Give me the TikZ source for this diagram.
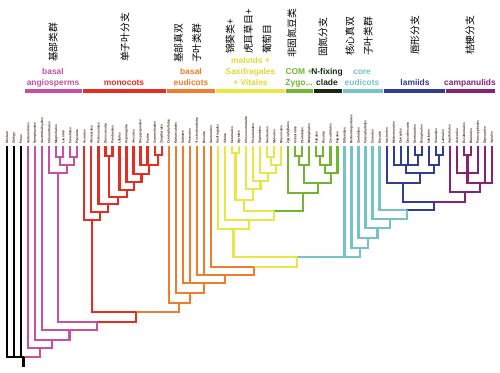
\documentclass[tikz,border=0pt]{standalone}
\usepackage{fontspec}
\setmainfont{Liberation Sans}
\newfontfamily\cjk{Noto Sans CJK SC}
\usetikzlibrary{calc}

\definecolor{cBasal}{RGB}{200,80,160}
\definecolor{cMono}{RGB}{228,45,35}
\definecolor{cEud}{RGB}{240,125,45}
\definecolor{cMalv}{RGB}{234,230,70}
\definecolor{cMalvTxt}{RGB}{222,218,55}
\definecolor{cCom}{RGB}{115,180,50}
\definecolor{cNfix}{RGB}{25,40,20}
\definecolor{cCore}{RGB}{115,195,200}
\definecolor{cLam}{RGB}{50,60,145}
\definecolor{cCamp}{RGB}{135,35,115}
\definecolor{cLeaf}{RGB}{65,45,35}

\begin{document}
\begin{tikzpicture}[x=0.05cm, y=-0.05cm]

	\tikzset{
		branch/.style={line width=3.2pt},
		leaf/.style={rotate=90, anchor=west, inner sep=0pt, text=cLeaf, font=\fontsize{4.7}{6}\selectfont\bfseries},
		bar/.style={line width=5pt},
		clade/.style={align=center, anchor=south, inner sep=0pt, font=\fontsize{12}{15.6}\selectfont\bfseries},
		zh/.style={rotate=90, anchor=west, align=left, inner sep=0pt, font=\cjk\fontsize{14}{26}\selectfont}
	}

	% ---------------------------
	% Helper macros
	% (#1 clade name, #2 left child, #3 right child, #4 height, #5/#6 colours)
	% ---------------------------
	\newcommand{\clade}[6]{%
		\coordinate (#1-m) at ($(#2)!0.5!(#3)$);
		\coordinate (#1) at (#1-m |- 0,#4);
		\draw[branch,#5] (#2) |- (#1);
		\draw[branch,#6] (#3) |- (#1);
	}
	% extra child of a polytomy, dropping onto the bar of clade #1
	\newcommand{\drop}[3]{\draw[branch,#3] (#2) -- (#2 |- #1);}

	\path[fill=white, use as bounding box] (0,0) rectangle (500,373);

	% ---------------------------
	% Leaves (orders)
	% ---------------------------
	\foreach \n [count=\i from 0] in {Gnetum,Ginkgo,Pinus,Amborellales,Nymphaeales,Austrobaileyales,Chloranthales,Magnoliales,Laurales,Canellales,Piperales,Acorales,Alismatales,Petrosaviales,Dioscoreales,Pandanales,Liliales,Asparagales,Arecales,Dasypogonales,Poales,Commelinales,Zingiberales,Ceratophyllales,Ranunculales,Sabiales,Proteales,Trochodendrales,Buxales,Gunnerales,Saxifragales,Vitales,Geraniales,Myrtales,Crossosomatales,Picramniales,Sapindales,Huerteales,Malvales,Brassicales,Zygophyllales,Celastrales,Oxalidales,Malpighiales,Fabales,Rosales,Cucurbitales,Fagales,Dilleniales,Berberidopsidales,Santalales,Caryophyllales,Cornales,Ericales,Icacinales,Metteniusales,Garryales,Oncothecales,Gentianales,Boraginales,Vahliales,Solanales,Lamiales,Aquifoliales,Asterales,Escalloniales,Bruniales,Paracryphiales,Dipsacales,Apiales} {
		\coordinate (\n) at ({7+7.03*\i},146);
		\node[leaf] (lbl-\n) at ($(\n)+(0,-2)$) {\n};
	}

	% ---------------------------
	% Basal angiosperms
	% ---------------------------
	\clade{magA}{Magnoliales}{Laurales}{157}{cBasal}{cBasal}
	\clade{magB}{Canellales}{Piperales}{157}{cBasal}{cBasal}
	\clade{magnoliids}{magA}{magB}{165}{cBasal}{cBasal}
	\clade{chlmag}{Chloranthales}{magnoliids}{173}{cBasal}{cBasal}

	% ---------------------------
	% Monocots
	% ---------------------------
	\clade{comzin}{Commelinales}{Zingiberales}{155}{cMono}{cMono}
	\clade{dasy}{Dasypogonales}{comzin}{165}{cMono}{cMono}
	\drop{dasy}{Poales}{cMono}
	\clade{commelinids}{Arecales}{dasy}{174}{cMono}{cMono}
	\clade{asp}{Asparagales}{commelinids}{182}{cMono}{cMono}
	\clade{lil}{Liliales}{asp}{190}{cMono}{cMono}
	\clade{diopan}{Dioscoreales}{Pandanales}{156}{cMono}{cMono}
	\clade{mono4}{diopan}{lil}{197}{cMono}{cMono}
	\clade{mono3}{Petrosaviales}{mono4}{204}{cMono}{cMono}
	\clade{mono2}{Alismatales}{mono3}{212}{cMono}{cMono}
	\clade{monocots}{Acorales}{mono2}{220}{cMono}{cMono}

	% ---------------------------
	% Rosids
	% ---------------------------
	\clade{germyr}{Geraniales}{Myrtales}{153}{cMalv}{cMalv}
	\clade{huemal}{Huerteales}{Malvales}{157}{cMalv}{cMalv}
	\clade{malv4}{huemal}{Brassicales}{165}{cMalv}{cMalv}
	\clade{malv3}{Sapindales}{malv4}{173}{cMalv}{cMalv}
	\clade{malv2}{Picramniales}{malv3}{181}{cMalv}{cMalv}
	\clade{malv1}{Crossosomatales}{malv2}{189}{cMalv}{cMalv}
	\clade{malvids}{germyr}{malv1}{200}{cMalv}{cMalv}

	\clade{com1}{Celastrales}{Oxalidales}{156}{cCom}{cCom}
	\clade{com}{com1}{Malpighiales}{165}{cCom}{cCom}
	\clade{nfix1}{Fabales}{Rosales}{156}{cCom}{cCom}
	\clade{nfix2}{nfix1}{Cucurbitales}{165}{cCom}{cCom}
	\clade{nfix}{nfix2}{Fagales}{173}{cCom}{cCom}
	\clade{comnfix}{com}{nfix}{183}{cCom}{cCom}
	\clade{fabids}{Zygophyllales}{comnfix}{193}{cCom}{cCom}

	\clade{eurosids}{malvids}{fabids}{211}{cMalv}{cCom}
	\clade{rosids}{Vitales}{eurosids}{220}{cMalv}{cMalv}
	\clade{superrosids}{Saxifragales}{rosids}{229}{cMalv}{cMalv}

	% ---------------------------
	% Asterids
	% ---------------------------
	\clade{lamA}{Gentianales}{Boraginales}{155}{cLam}{cLam}
	\clade{lamB}{Metteniusales}{lamA}{165}{cLam}{cLam}
	\drop{lamB}{Garryales}{cLam}
	\drop{lamB}{Oncothecales}{cLam}
	\clade{lamC}{Solanales}{Lamiales}{155}{cLam}{cLam}
	\clade{lamD}{Vahliales}{lamC}{165}{cLam}{cLam}
	\clade{lamE}{lamB}{lamD}{173}{cLam}{cLam}
	\clade{lamiids}{Icacinales}{lamE}{183}{cLam}{cLam}

	\clade{campA}{Escalloniales}{Bruniales}{155}{cCamp}{cCamp}
	\clade{campB}{Asterales}{Paracryphiales}{173}{cCamp}{cCamp}
	\drop{campB}{campA}{cCamp}
	\clade{campC}{campB}{Apiales}{183}{cCamp}{cCamp}
	\drop{campC}{Dipsacales}{cCamp}
	\clade{campanulids}{Aquifoliales}{campC}{192}{cCamp}{cCamp}

	\clade{asterids2}{lamiids}{campanulids}{202}{cLam}{cCamp}
	\clade{asterids1}{Ericales}{asterids2}{210}{cCore}{cLam}
	\clade{asterids}{Cornales}{asterids1}{219}{cCore}{cCore}
	\clade{sup3}{Caryophyllales}{asterids}{228}{cCore}{cCore}
	\clade{sup2}{Santalales}{sup3}{238}{cCore}{cCore}
	\clade{superasterids}{Berberidopsidales}{sup2}{248}{cCore}{cCore}

	% ---------------------------
	% Eudicots and the spine
	% ---------------------------
	\clade{core}{superrosids}{superasterids}{257}{cMalv}{cCore}
	\drop{core}{Dilleniales}{cCore}
	\clade{gunCore}{Gunnerales}{core}{267}{cEud}{cMalv}
	\clade{eudB}{Trochodendrales}{gunCore}{275}{cEud}{cEud}
	\drop{eudB}{Buxales}{cEud}
	\clade{eudC}{Sabiales}{eudB}{283}{cEud}{cEud}
	\drop{eudC}{Proteales}{cEud}
	\clade{eudD}{Ranunculales}{eudC}{293}{cEud}{cEud}
	\clade{eudicots}{Ceratophyllales}{eudD}{303}{cEud}{cEud}

	\clade{monoeud}{monocots}{eudicots}{312}{cMono}{cEud}
	\clade{mesangio}{chlmag}{monoeud}{322}{cBasal}{cMono}
	\clade{angio3}{Austrobaileyales}{mesangio}{330}{cBasal}{cBasal}
	\clade{angio2}{Nymphaeales}{angio3}{340}{cBasal}{cBasal}
	\clade{angiosperms}{Amborellales}{angio2}{348}{cBasal}{cBasal}
	\clade{root}{Gnetum}{angiosperms}{357}{black}{cBasal}
	\drop{root}{Ginkgo}{black}
	\drop{root}{Pinus}{black}
	\draw[branch] (root) -- ++(0,10);

	% ---------------------------
	% Group bars
	% ---------------------------
	\draw[bar,cBasal] (25,91) -- (81.5,91);
	\draw[bar,cMono] (82.5,91) -- (166,91);
	\draw[bar,cEud] (167,91) -- (215,91);
	\draw[bar,cMalv] (216,91) -- (285,91);
	\draw[bar,cCom] (286,91) -- (313,91);
	\draw[bar,cNfix] (313.5,91) -- (342,91);
	\draw[bar,cCore] (342.5,91) -- (383,91);
	\draw[bar,cLam] (384,91) -- (445,91);
	\draw[bar,cCamp] (445.5,91) -- (495,91);

	% ---------------------------
	% Group names
	% ---------------------------
	\node[clade, text=cBasal] (t-basal) at (53,88.6) {basal\\angiosperms\strut};
	\node[clade, text=cMono] (t-mono) at (124,88.6) {monocots\strut};
	\node[clade, text=cEud] (t-eud) at (191,88.6) {basal\\eudicots\strut};
	\node[clade, text=cMalvTxt] (t-malv) at (250.5,88.6) {malvids +\\Saxifragales\\+ Vitales\strut};
	\node[clade, text=cCom] (t-com) at (299,88.6) {COM +\\Zygo...\strut};
	\node[clade, text=cNfix] (t-nfix) at (327,88.6) {N-fixing\\clade\strut};
	\node[clade, text=cCore] (t-core) at (362,88.6) {core\\eudicots\strut};
	\node[clade, text=cLam] (t-lam) at (415,88.6) {lamiids\strut};
	\node[clade, text=cCamp] (t-camp) at (470,88.6) {campanulids\strut};

	\node[zh] (zh-basal) at (53,62) {基部类群};
	\node[zh] (zh-mono) at (125,62) {单子叶分支};
	\node[zh] (zh-eud) at (187.5,63) {基部真双\\子叶类群};
	\node[zh] (zh-malv) at (248.5,54) {锦葵类+\\虎耳草目+\\葡萄目};
	\node[zh] (zh-com) at (292,58) {非固氮豆类};
	\node[zh] (zh-nfix) at (323,57) {固氮分支};
	\node[zh] (zh-core) at (359,56) {核心真双\\子叶类群};
	\node[zh] (zh-lam) at (415,55) {唇形分支};
	\node[zh] (zh-camp) at (470,55) {桔梗分支};

\end{tikzpicture}
\end{document}
